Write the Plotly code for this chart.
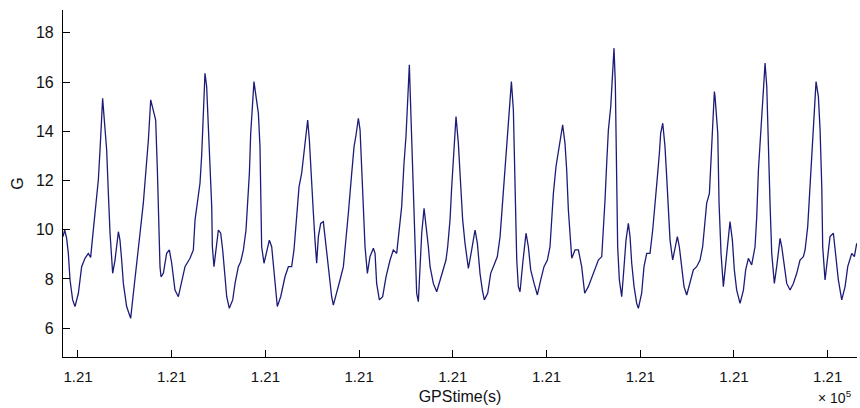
import plotly.graph_objects as go

# GPS time (s) and vertical acceleration G
time_s = [
    121008.40, 121008.58, 121008.79, 121008.97, 121009.15, 121009.43, 121009.68, 121010.04, 121010.39, 121010.75,
    121011.10, 121011.35, 121011.53, 121011.81, 121012.17, 121012.35, 121012.53, 121012.63, 121012.78, 121013.06,
    121013.24, 121013.42, 121013.70, 121013.95, 121014.31, 121014.48, 121014.66, 121014.84, 121015.19, 121015.62,
    121015.91, 121016.26, 121016.62, 121016.97, 121017.26, 121017.51, 121017.76, 121018.04, 121018.29, 121018.47,
    121018.57, 121018.75, 121018.86, 121019.11, 121019.46, 121019.75, 121020.00, 121020.35, 121020.71, 121021.06,
    121021.42, 121021.95, 121022.31, 121022.49, 121022.74, 121023.02, 121023.20, 121023.38, 121023.55, 121023.73,
    121023.91, 121024.09, 121024.27, 121024.34, 121024.51, 121024.73, 121024.98, 121025.23, 121025.44, 121025.69,
    121025.87, 121026.15, 121026.51, 121026.76, 121027.11, 121027.36, 121027.65, 121027.93, 121028.07, 121028.29,
    121028.43, 121028.64, 121028.78, 121029.00, 121029.25, 121029.42, 121029.50, 121029.60, 121029.85, 121030.14,
    121030.42, 121030.67, 121030.85, 121031.10, 121031.27, 121031.63, 121032.09, 121032.45, 121032.80, 121033.05,
    121033.34, 121033.59, 121033.87, 121034.12, 121034.40, 121034.51, 121034.69, 121034.94, 121035.12, 121035.29,
    121035.47, 121035.65, 121035.90, 121036.18, 121036.36, 121036.54, 121036.82, 121037.07, 121037.25, 121037.61,
    121037.96, 121038.32, 121038.60, 121038.85, 121039.21, 121039.46, 121039.67, 121039.92, 121040.10, 121040.27,
    121040.45, 121040.63, 121040.88, 121041.16, 121041.52, 121041.70, 121041.87, 121042.16, 121042.51, 121042.87,
    121043.30, 121043.65, 121044.01, 121044.26, 121044.54, 121044.79, 121045.00, 121045.15, 121045.25, 121045.36,
    121045.50, 121045.68, 121045.86, 121045.97, 121046.14, 121046.32, 121046.50, 121046.68, 121046.93, 121047.14,
    121047.39, 121047.57, 121047.92, 121048.28, 121048.63, 121048.99, 121049.27, 121049.45, 121049.70, 121049.88,
    121049.99, 121050.06, 121050.13, 121050.34, 121050.59, 121050.77, 121051.05, 121051.30, 121051.66, 121052.01,
    121052.37, 121052.62, 121052.90, 121053.15, 121053.36, 121053.72, 121054.04, 121054.40, 121054.75, 121055.04,
    121055.29, 121055.57, 121055.82, 121056.10, 121056.25, 121056.46, 121056.57, 121056.74, 121056.82, 121056.99,
    121057.17, 121057.46, 121057.81, 121058.06, 121058.31, 121058.67, 121059.02, 121059.38, 121059.73, 121060.09,
    121060.37, 121060.55, 121060.73, 121061.01, 121061.26, 121061.51, 121061.72, 121061.97, 121062.15, 121062.33,
    121062.51, 121062.69, 121063.04, 121063.40, 121063.75, 121064.07, 121064.46, 121065.00, 121065.53, 121065.89,
    121066.06, 121066.24, 121066.42, 121066.60, 121066.85, 121067.02, 121067.20, 121067.34, 121067.49, 121067.59,
    121067.77, 121068.02, 121068.27, 121068.48, 121068.73, 121068.91, 121069.09, 121069.34, 121069.62, 121069.80,
    121070.15, 121070.40, 121070.69, 121071.04, 121071.33, 121071.58, 121071.83, 121072.04, 121072.18, 121072.40,
    121072.64, 121072.82, 121073.00, 121073.18, 121073.46, 121073.71, 121073.96, 121074.17, 121074.42, 121074.67,
    121074.96, 121075.31, 121075.67, 121076.02, 121076.38, 121076.66, 121076.91, 121077.09, 121077.38, 121077.55,
    121077.73, 121077.91, 121077.98, 121078.27, 121078.41, 121078.62, 121078.87, 121079.12, 121079.40, 121079.58,
    121079.83, 121080.04, 121080.29, 121080.65, 121081.01, 121081.25, 121081.54, 121081.89, 121082.25, 121082.43,
    121082.61, 121082.78, 121082.96, 121083.14, 121083.32, 121083.50, 121083.67, 121083.85, 121084.03, 121084.31,
    121084.56, 121084.92, 121085.10, 121085.38, 121085.63, 121085.99, 121086.34, 121086.70, 121087.05, 121087.41,
    121087.59, 121087.87, 121088.12, 121088.30, 121088.55, 121088.76, 121089.01, 121089.19, 121089.37, 121089.47,
    121089.72, 121089.97, 121090.25, 121090.61, 121090.86, 121091.14, 121091.50, 121091.86, 121092.14, 121092.57,
    121092.85, 121093.10,
]
g_values = [
    9.72, 9.99, 9.65, 9.04, 7.96, 7.15, 6.88, 7.42, 8.50, 8.84,
    9.04, 8.88, 9.59, 10.80, 12.02, 13.24, 14.60, 15.34, 14.60, 13.24,
    11.48, 9.86, 8.23, 8.77, 9.92, 9.58, 8.77, 7.82, 6.88, 6.40,
    7.42, 8.77, 9.86, 11.08, 12.43, 13.65, 15.28, 14.87, 14.46, 12.43,
    10.94, 8.50, 8.09, 8.23, 9.04, 9.18, 8.64, 7.55, 7.28, 7.82,
    8.50, 8.84, 9.18, 10.40, 11.21, 11.89, 13.04, 14.46, 16.36, 15.82,
    14.46, 12.57, 10.94, 9.31, 8.50, 9.18, 9.99, 9.86, 9.18, 8.09,
    7.28, 6.81, 7.15, 7.82, 8.50, 8.70, 9.18, 9.99, 10.94, 12.30,
    13.92, 15.41, 16.02, 15.41, 14.73, 13.38, 11.08, 9.31, 8.64, 9.18,
    9.58, 9.31, 8.50, 7.42, 6.88, 7.28, 8.09, 8.50, 8.50, 9.18,
    10.53, 11.75, 12.30, 13.11, 14.06, 14.46, 13.65, 12.16, 10.67, 9.58,
    8.64, 9.72, 10.26, 10.33, 9.72, 9.04, 7.96, 7.28, 6.94, 7.42,
    7.96, 8.50, 9.58, 10.67, 12.30, 13.38, 13.85, 14.53, 14.06, 12.70,
    10.80, 9.31, 8.23, 8.91, 9.25, 9.04, 7.82, 7.15, 7.28, 8.09,
    8.77, 9.18, 9.04, 9.86, 10.94, 12.70, 13.79, 15.00, 16.22, 16.70,
    15.00, 12.84, 10.40, 8.77, 7.42, 7.08, 8.50, 9.86, 10.87, 10.26,
    9.31, 8.50, 7.82, 7.48, 7.96, 8.50, 8.77, 9.31, 10.40, 11.75,
    12.43, 13.11, 13.51, 14.60, 13.51, 12.30, 10.40, 9.45, 8.43, 9.18,
    9.99, 9.45, 8.23, 7.55, 7.15, 7.42, 8.23, 8.57, 8.91, 9.72,
    10.94, 12.57, 13.92, 15.28, 16.02, 14.87, 13.11, 10.67, 8.77, 7.69,
    7.48, 8.64, 9.86, 9.31, 8.37, 7.82, 7.35, 7.96, 8.50, 8.77,
    9.31, 10.40, 11.48, 12.57, 13.11, 13.79, 14.26, 13.51, 12.43, 10.80,
    9.58, 8.84, 9.18, 9.18, 8.50, 7.42, 7.69, 8.23, 8.77, 8.91,
    9.86, 11.21, 12.70, 14.06, 15.00, 15.95, 17.38, 15.95, 12.43, 9.31,
    7.96, 7.28, 8.50, 9.58, 10.26, 9.72, 8.64, 7.69, 7.01, 6.81,
    7.42, 8.50, 9.04, 9.04, 9.99, 10.94, 12.16, 13.11, 13.92, 14.33,
    13.38, 12.16, 10.67, 9.58, 8.77, 9.18, 9.72, 9.31, 8.50, 7.69,
    7.35, 7.82, 8.37, 8.50, 8.77, 9.31, 10.40, 11.08, 11.48, 12.84,
    14.46, 15.62, 15.41, 13.92, 11.08, 9.04, 7.69, 8.64, 9.58, 10.33,
    9.58, 8.37, 7.55, 7.01, 7.55, 8.37, 8.84, 8.57, 9.31, 10.53,
    12.43, 13.51, 14.46, 15.82, 16.77, 15.82, 13.11, 11.08, 9.04, 7.82,
    8.50, 9.65, 9.31, 8.50, 7.82, 7.55, 7.82, 8.23, 8.77, 8.91,
    9.18, 10.13, 11.75, 13.11, 14.73, 16.02, 15.41, 14.06, 11.75, 9.31,
    7.96, 8.77, 9.72, 9.86, 9.04, 7.96, 7.15, 7.69, 8.50, 9.04,
    8.91, 9.45,
]

x_tick_vals = [121010, 121020, 121030, 121040, 121050, 121060, 121070, 121080, 121090]
x_tick_text = ["1.21"] * 9
y_tick_vals = [6, 8, 10, 12, 14, 16, 18]
y_tick_text = ["6", "8", "10", "12", "14", "16", "18"]

FONT = "Liberation Sans, Arial, sans-serif"

fig = go.Figure()
fig.add_trace(go.Scatter(
    x=time_s, y=g_values, mode="lines",
    line=dict(color="#1c1c78", width=1.3),
    showlegend=False, hoverinfo="skip",
))

fig.update_layout(
    width=860, height=408,
    margin=dict(l=63, r=3, t=10, b=51),
    paper_bgcolor="white", plot_bgcolor="white",
    font=dict(family=FONT, size=16, color="#111111"),
    xaxis=dict(
        range=[121008.40, 121093.13],
        tickmode="array", tickvals=x_tick_vals, ticktext=x_tick_text,
        ticks="inside", ticklen=7, tickwidth=1, tickcolor="black",
        showline=True, linecolor="black", linewidth=1.2, mirror=False,
        showgrid=False, zeroline=False,
        tickfont=dict(family=FONT, size=15),
        ticklabelstandoff=6,
        title=dict(text="GPStime(s)", font=dict(family=FONT, size=16), standoff=6),
        automargin=False,
    ),
    yaxis=dict(
        range=[4.83, 18.93],
        tickmode="array", tickvals=y_tick_vals, ticktext=y_tick_text,
        ticks="inside", ticklen=7, tickwidth=1, tickcolor="black",
        showline=True, linecolor="black", linewidth=1.2, mirror=False,
        showgrid=False, zeroline=False,
        tickfont=dict(family=FONT, size=16),
        ticklabelstandoff=5,
        title=dict(text="G", font=dict(family=FONT, size=16), standoff=8),
        automargin=False,
    ),
    annotations=[
        dict(text="× 10<sup>5</sup>", xref="paper", yref="paper",
             x=0.996, y=-0.115, xanchor="right", yanchor="middle",
             showarrow=False, font=dict(family=FONT, size=14)),
    ],
)

fig.write_html("out.html", config={"displayModeBar": False})
